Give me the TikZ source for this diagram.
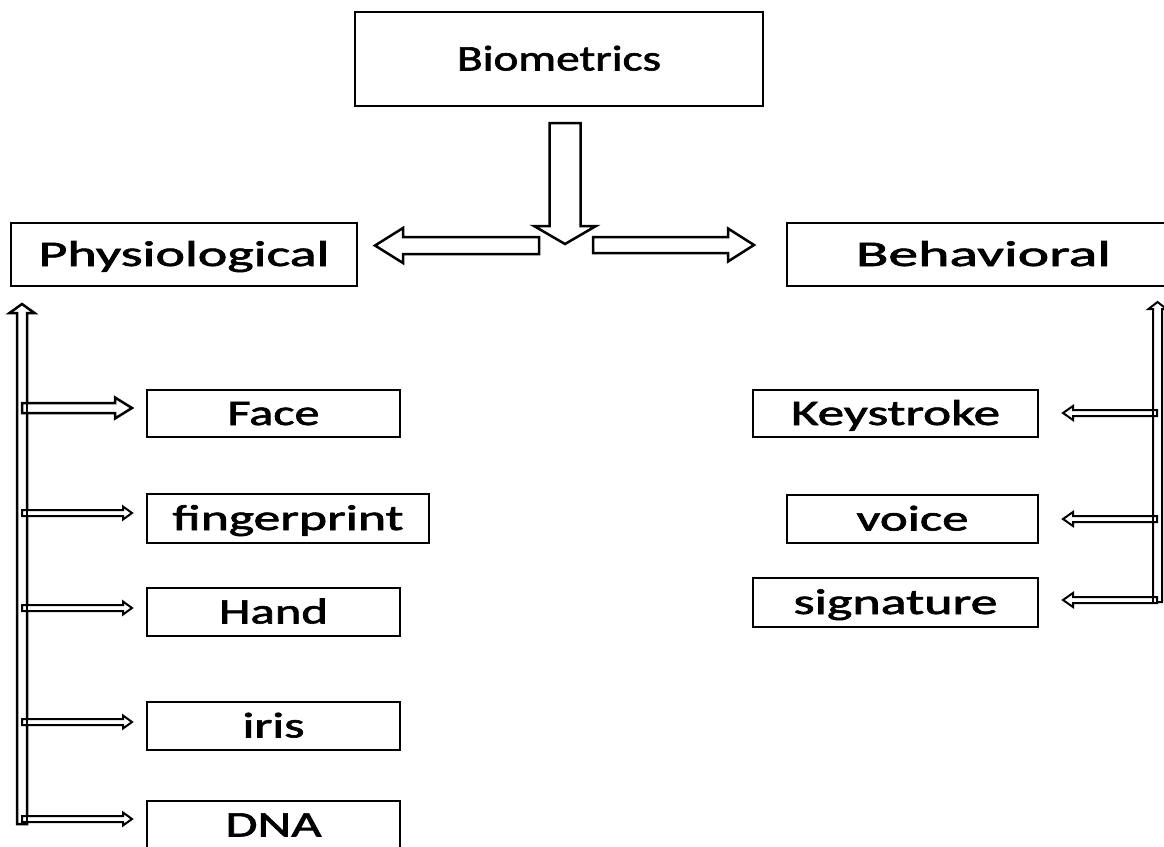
\documentclass[tikz,border=0pt]{standalone}
\usepackage{fontspec}
\setmainfont{Carlito}
\newfontfamily\lblfont{Carlito}[FakeBold=1.6]
\usepackage{graphicx}
\usetikzlibrary{calc}

% stretch a label horizontally to a given width (in pt), keeping its height
\newcommand\stretchto[2]{\resizebox{#1pt}{\height}{#2}}

% outlined block arrow: [style]{tail}{tip}{half shaft}{half head}{head length}
\newcommand\blockarrow[6][]{%
  \path ($(#3)!#6pt!(#2)$) coordinate (ba-hb);
  \draw[arrowbody,#1]
    ($(#2)!#4pt!90:(#3)$) -- ($(ba-hb)!#4pt!-90:(#2)$) --
    ($(ba-hb)!#5pt!-90:(#2)$) -- (#3) --
    ($(ba-hb)!#5pt!90:(#2)$) -- ($(ba-hb)!#4pt!90:(#2)$) --
    ($(#2)!#4pt!-90:(#3)$) -- cycle;
}

\tikzset{
  box/.style={draw, line width=2pt, rectangle, inner sep=0pt,
    text height=23pt, text depth=0pt, font=\lblfont\fontsize{36}{36}\selectfont},
  arrowbody/.style={draw, line width=2.5pt, fill=white, line join=miter},
  thin arrow/.style={line width=2pt},
}

\begin{document}
\begin{tikzpicture}[x=1pt, y=-1pt]
\useasboundingbox (0,0) rectangle (1164,846);

% category boxes
\node[box, minimum width=408pt, minimum height=94pt] (bio) at (559,59) {\stretchto{204}{Biometrics}};
\node[box, minimum width=346pt, minimum height=63pt] (phys) at (184,254.5) {\stretchto{291}{Physiological}};
\node[box, minimum width=393pt, minimum height=63pt] (beh) at (983.5,254.5) {\stretchto{255}{Behavioral}\hspace{38pt}};

% physiological traits
\node[box, minimum width=253pt, minimum height=47pt] (face) at (273.5,413.5) {\stretchto{92}{Face}};
\node[box, minimum width=282pt, minimum height=49pt] (finger) at (288,518.5) {\stretchto{231}{fingerprint}};
\node[box, minimum width=253pt, minimum height=48pt] (hand) at (273.5,612) {\stretchto{109}{Hand}};
\node[box, minimum width=253pt, minimum height=48pt] (iris) at (273.5,726) {\stretchto{62}{iris}};
\node[box, minimum width=253pt, minimum height=48pt] (dna) at (273.5,825) {\stretchto{96}{DNA}};

% behavioral traits
\node[box, minimum width=285pt, minimum height=47pt] (key) at (895.5,413.5) {\stretchto{209}{Keystroke}};
\node[box, minimum width=251pt, minimum height=48pt] (voice) at (912.5,519) {\stretchto{112}{voice}};
\node[box, minimum width=285pt, minimum height=49pt] (sig) at (895.5,602.5) {\stretchto{204}{signature}};

% split arrows below the root
\coordinate (dtail) at (565,123);
\coordinate (dtip) at (565,244);
\coordinate (ltail) at (539,245.5);
\coordinate (ltip) at (375,245.5);
\coordinate (rtail) at (593,245);
\coordinate (rtip) at (754,245);
\blockarrow{dtail}{dtip}{15.5}{31}{18}
\blockarrow{ltail}{ltip}{8.5}{17.5}{28}
\blockarrow{rtail}{rtip}{8}{16.5}{26}

% left spine and its branches
\coordinate (lsb) at (22,824);
\coordinate (lst) at (22,304);
\coordinate (b1) at (22,408);   \coordinate (t1) at (132,408);
\coordinate (b2) at (22,513);   \coordinate (t2) at (132,513);
\coordinate (b3) at (22,608);   \coordinate (t3) at (132,608);
\coordinate (b4) at (22,722);   \coordinate (t4) at (132,722);
\coordinate (b5) at (22,819);   \coordinate (t5) at (132,819);
\blockarrow[fill=none]{lsb}{lst}{5}{12.5}{9}
\blockarrow{b1}{t1}{5}{10.5}{17}
\blockarrow[thin arrow]{b2}{t2}{3}{6.5}{9}
\blockarrow[thin arrow]{b3}{t3}{3}{6.5}{9}
\blockarrow[thin arrow]{b4}{t4}{3}{6.5}{9}
\blockarrow[thin arrow]{b5}{t5}{3}{6.5}{9}
\draw[line width=2.5pt] ($(lsb)+(5,0)$) -- ($(lst)+(5,9)$);

% right spine and its branches
\coordinate (rsb) at (1157.5,602);
\coordinate (rst) at (1157.5,302);
\coordinate (c1) at (1157,413); \coordinate (u1) at (1063,413);
\coordinate (c2) at (1157,519); \coordinate (u2) at (1063,519);
\coordinate (c3) at (1157,600); \coordinate (u3) at (1063,600);
\blockarrow[fill=none, thin arrow]{rsb}{rst}{4.5}{9}{7}
\blockarrow[thin arrow]{c1}{u1}{3}{7}{10}
\blockarrow[thin arrow]{c2}{u2}{3}{7}{10}
\blockarrow[thin arrow]{c3}{u3}{3}{7}{10}
\draw[line width=2pt] ($(rsb)+(-4.5,0)$) -- ($(rst)+(-4.5,7)$);
\end{tikzpicture}
\end{document}
